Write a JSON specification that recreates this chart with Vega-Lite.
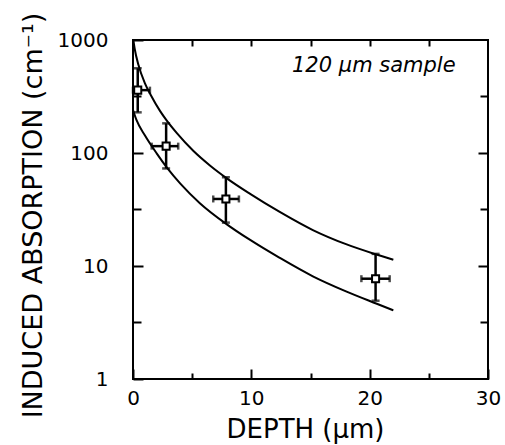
{
  "$schema": "https://vega.github.io/schema/vega-lite/v6.json",
  "autosize": "none",
  "width": 355,
  "height": 339,
  "padding": {"left": 133, "top": 40, "right": 17, "bottom": 66},
  "background": "white",
  "config": {
    "view": {"stroke": "black", "strokeWidth": 2},
    "font": "DejaVu Sans",
    "axis": {"domain": false, "grid": false, "tickColor": "black", "tickWidth": 2, "labelColor": "black", "titleColor": "black", "labelFont": "DejaVu Sans", "titleFont": "DejaVu Sans", "labelFontSize": 20, "titleFontSize": 26, "titleFontWeight": "normal"}
  },
  "datasets": {
    "curves": [
      {"curve": "upper", "depth": 0.03, "absorption": 1000},
      {"curve": "upper", "depth": 0.15, "absorption": 828},
      {"curve": "upper", "depth": 0.45, "absorption": 607},
      {"curve": "upper", "depth": 1.0, "absorption": 415},
      {"curve": "upper", "depth": 1.5, "absorption": 326},
      {"curve": "upper", "depth": 2.28, "absorption": 236},
      {"curve": "upper", "depth": 2.84, "absorption": 194.5},
      {"curve": "upper", "depth": 3.69, "absorption": 150.7},
      {"curve": "upper", "depth": 5.09, "absorption": 104.7},
      {"curve": "upper", "depth": 6.5, "absorption": 77.6},
      {"curve": "upper", "depth": 7.9, "absorption": 60},
      {"curve": "upper", "depth": 9.9, "absorption": 43.5},
      {"curve": "upper", "depth": 12.4, "absorption": 30.1},
      {"curve": "upper", "depth": 15.2, "absorption": 20.8},
      {"curve": "upper", "depth": 18.0, "absorption": 15.6},
      {"curve": "upper", "depth": 20.5, "absorption": 12.7},
      {"curve": "upper", "depth": 22.0, "absorption": 11.35},
      {"curve": "lower", "depth": 0.0, "absorption": 240},
      {"curve": "lower", "depth": 0.3, "absorption": 195},
      {"curve": "lower", "depth": 1.0, "absorption": 143.5},
      {"curve": "lower", "depth": 2.0, "absorption": 99.3},
      {"curve": "lower", "depth": 2.9, "absorption": 73.5},
      {"curve": "lower", "depth": 4.0, "absorption": 53.6},
      {"curve": "lower", "depth": 5.65, "absorption": 36.0},
      {"curve": "lower", "depth": 7.9, "absorption": 23.5},
      {"curve": "lower", "depth": 9.9, "absorption": 17.0},
      {"curve": "lower", "depth": 12.4, "absorption": 11.8},
      {"curve": "lower", "depth": 15.2, "absorption": 8.1},
      {"curve": "lower", "depth": 18.0, "absorption": 5.96},
      {"curve": "lower", "depth": 20.6, "absorption": 4.63},
      {"curve": "lower", "depth": 22.0, "absorption": 4.05}
    ],
    "points": [
      {"depth": 0.4, "absorption": 360, "xlo": 0.0, "xhi": 1.43, "ylo": 229, "yhi": 562},
      {"depth": 2.8, "absorption": 115, "xlo": 1.58, "xhi": 3.82, "ylo": 73, "yhi": 183},
      {"depth": 7.85, "absorption": 39.2, "xlo": 6.78, "xhi": 8.95, "ylo": 24.2, "yhi": 61},
      {"depth": 20.5, "absorption": 7.72, "xlo": 19.3, "xhi": 21.69, "ylo": 4.93, "yhi": 12.8}
    ],
    "label": [
      {"depth": 20.35, "absorption": 590, "text": "120 μm sample"}
    ]
  },
  "resolve": {"axis": {"x": "independent", "y": "independent"}},
  "layer": [
    {
      "data": {"name": "curves"},
      "mark": {"type": "line", "color": "black", "strokeWidth": 2, "interpolate": "monotone", "clip": true},
      "encoding": {
        "x": {"field": "depth", "type": "quantitative", "scale": {"domain": [0, 30], "nice": false},
          "axis": {"orient": "bottom", "title": "DEPTH (μm)", "values": [0, 5, 10, 15, 20, 25, 30],
            "labelExpr": "datum.value % 10 == 0 ? datum.label : ''",
            "tickSize": {"condition": {"test": "datum.value % 10 == 0", "value": -10}, "value": -6},
            "labelPadding": 19, "labelFlush": false,
            "titleX": 172, "titleY": 58, "titleBaseline": "alphabetic", "titleAnchor": "start", "titleAlign": "center"}},
        "y": {"field": "absorption", "type": "quantitative", "scale": {"type": "log", "domain": [1, 1000], "nice": false},
          "axis": {"orient": "left", "title": "INDUCED ABSORPTION (cm⁻¹)", "values": [1, 3.1623, 10, 31.623, 100, 316.23, 1000],
            "labelExpr": "(datum.value == 1 || datum.value == 10 || datum.value == 100 || datum.value == 1000) ? format(datum.value, 'd') : ''",
            "tickSize": {"condition": {"test": "datum.value == 1 || datum.value == 10 || datum.value == 100 || datum.value == 1000", "value": -10}, "value": -8},
            "labelPadding": 35, "titleFontSize": 27,
            "titleX": -92, "titleY": 175, "titleAngle": -90, "titleBaseline": "alphabetic", "titleAlign": "center"}},
        "detail": {"field": "curve"}
      }
    },
    {
      "data": {"name": "points"},
      "mark": {"type": "rule", "color": "black", "strokeWidth": 2.5},
      "encoding": {
        "x": {"field": "depth", "type": "quantitative",
          "axis": {"orient": "top", "title": null, "labels": false, "values": [5, 10, 15, 20, 25], "tickSize": -6}},
        "y": {"field": "ylo", "type": "quantitative",
          "axis": {"orient": "right", "title": null, "labels": false, "values": [3.1623, 10, 31.623, 100, 316.23],
            "tickSize": {"condition": {"test": "datum.value == 10 || datum.value == 100", "value": -10}, "value": -8}}},
        "y2": {"field": "yhi"}
      }
    },
    {
      "data": {"name": "points"},
      "mark": {"type": "rule", "color": "black", "strokeWidth": 2.5},
      "encoding": {
        "x": {"field": "xlo", "type": "quantitative", "axis": null},
        "x2": {"field": "xhi"},
        "y": {"field": "absorption", "type": "quantitative", "axis": null}
      }
    },
    {
      "data": {"name": "points"},
      "mark": {"type": "tick", "orient": "horizontal", "color": "black", "size": 8, "thickness": 2.5},
      "encoding": {
        "x": {"field": "depth", "type": "quantitative", "axis": null},
        "y": {"field": "ylo", "type": "quantitative", "axis": null}
      }
    },
    {
      "data": {"name": "points"},
      "mark": {"type": "tick", "orient": "horizontal", "color": "black", "size": 8, "thickness": 2.5},
      "encoding": {
        "x": {"field": "depth", "type": "quantitative", "axis": null},
        "y": {"field": "yhi", "type": "quantitative", "axis": null}
      }
    },
    {
      "data": {"name": "points"},
      "mark": {"type": "tick", "orient": "vertical", "color": "black", "size": 7, "thickness": 2.5},
      "encoding": {
        "x": {"field": "xlo", "type": "quantitative", "axis": null},
        "y": {"field": "absorption", "type": "quantitative", "axis": null}
      }
    },
    {
      "data": {"name": "points"},
      "mark": {"type": "tick", "orient": "vertical", "color": "black", "size": 7, "thickness": 2.5},
      "encoding": {
        "x": {"field": "xhi", "type": "quantitative", "axis": null},
        "y": {"field": "absorption", "type": "quantitative", "axis": null}
      }
    },
    {
      "data": {"name": "points"},
      "mark": {"type": "square", "filled": true, "fill": "white", "stroke": "black", "strokeWidth": 2, "size": 50, "opacity": 1},
      "encoding": {
        "x": {"field": "depth", "type": "quantitative", "axis": null},
        "y": {"field": "absorption", "type": "quantitative", "axis": null}
      }
    },
    {
      "data": {"name": "label"},
      "mark": {"type": "text", "font": "DejaVu Sans", "fontStyle": "italic", "fontSize": 21, "color": "black", "align": "center", "baseline": "middle"},
      "encoding": {
        "x": {"field": "depth", "type": "quantitative", "axis": null},
        "y": {"field": "absorption", "type": "quantitative", "axis": null},
        "text": {"field": "text"}
      }
    }
  ]
}
